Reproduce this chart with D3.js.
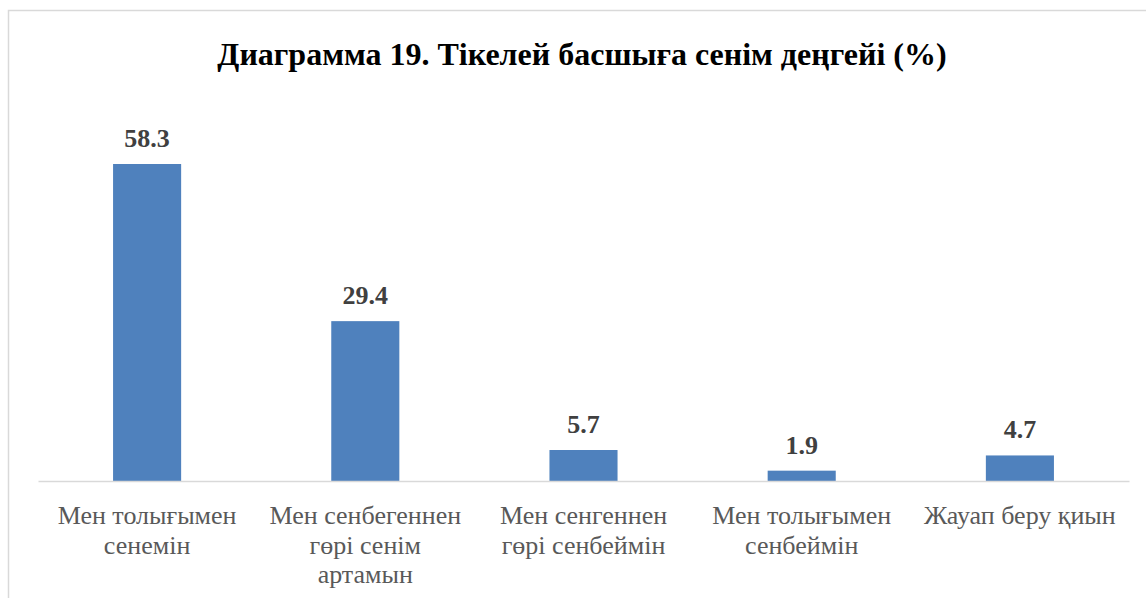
<!DOCTYPE html>
<html><head><meta charset="utf-8">
<script src="https://cdn.jsdelivr.net/npm/d3@7"></script>
<style>html,body{margin:0;padding:0;background:#fff;}svg{display:block;}
.serif{font-family:"Liberation Serif","Tinos","Times New Roman","DejaVu Serif",serif;}</style>
</head><body>
<script>
const title = "Диаграмма 19. Тікелей басшыға сенім деңгейі (%)";
const categories = [
  "Мен толығымен\nсенемін",
  "Мен сенбегеннен\nгөрі сенім\nартамын",
  "Мен сенгеннен\nгөрі сенбеймін",
  "Мен толығымен\nсенбеймін",
  "Жауап беру қиын"
];
const values = [58.3, 29.4, 5.7, 1.9, 4.7];

const W = 1146, H = 598;
const svg = d3.select("body").append("svg").attr("width", W).attr("height", H);

svg.append("rect").attr("x", 8.5).attr("y", 10.5).attr("width", W + 10).attr("height", H + 10)
  .attr("fill", "#fff").attr("stroke", "#d9d9d9").attr("stroke-width", 1.5);

svg.append("text").attr("class", "serif").attr("x", 582).attr("y", 65).attr("text-anchor", "middle")
  .attr("font-weight", "bold").attr("font-size", 32).attr("fill", "#000").text(title);

const x = d3.scaleBand().domain(d3.range(categories.length)).range([38, 1129]).paddingInner(0.688).paddingOuter(0.344);
const y = d3.scaleLinear().domain([0, 58.3]).range([481, 164]);

svg.selectAll("rect.bar").data(values).join("rect").attr("class", "bar")
  .attr("x", (d, i) => x(i)).attr("width", x.bandwidth())
  .attr("y", d => y(d)).attr("height", d => y(0) - y(d)).attr("fill", "#4f81bd");

svg.selectAll("text.val").data(values).join("text").attr("class", "val serif")
  .attr("x", (d, i) => x(i) + x.bandwidth() / 2).attr("y", d => y(d) - 17)
  .attr("text-anchor", "middle")
  .attr("font-weight", "bold").attr("font-size", 26).attr("fill", "#404040")
  .text(d => d.toFixed(1));

const axis = d3.axisBottom(x).tickSize(0).tickSizeOuter(0).tickFormat(() => "");
const g = svg.append("g").attr("transform", `translate(0,${y(0)})`).call(axis);
g.select(".domain").attr("stroke", "#d9d9d9").attr("stroke-width", 1.5);

const labels = svg.selectAll("text.cat").data(categories).join("text").attr("class", "cat serif")
  .attr("text-anchor", "middle")
  .attr("font-size", 26).attr("fill", "#595959");
labels.each(function (d, i) {
  const t = d3.select(this);
  d.split("\n").forEach((line, k) => {
    t.append("tspan").attr("x", x(i) + x.bandwidth() / 2).attr("y", 524 + k * 29.5).text(line);
  });
});
</script>
</body></html>
